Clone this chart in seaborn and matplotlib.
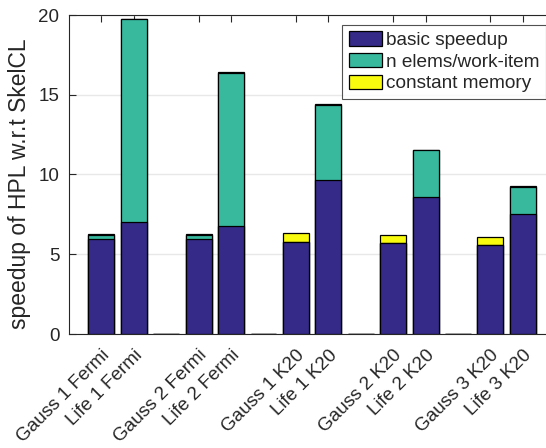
import matplotlib
matplotlib.use("Agg")
import matplotlib.pyplot as plt
import seaborn as sns
import pandas as pd
from matplotlib.patches import Patch

# Benchmarks (pairs separated by an empty slot)
benchmarks = ["Gauss 1 Fermi", "Life 1 Fermi",
              "Gauss 2 Fermi", "Life 2 Fermi",
              "Gauss 1 K20", "Life 1 K20",
              "Gauss 2 K20", "Life 2 K20",
              "Gauss 3 K20", "Life 3 K20"]
basic_speedup = [5.95, 7.00, 5.95, 6.80, 5.75, 9.65, 5.68, 8.57, 5.58, 7.50]
n_elems = [0.27, 12.73, 0.27, 9.58, 0.00, 4.72, 0.00, 2.99, 0.00, 1.70]
constant_memory = [0.06, 0.00, 0.05, 0.05, 0.56, 0.02, 0.53, 0.00, 0.50, 0.06]

series_names = ["basic speedup", "n elems/work-item", "constant memory"]
colors = ["#352a87", "#38b99e", "#f9fb0e"]

# Build the slot list: a pair of bars, then an empty slot of height 0
slots, b, n, c = [], [], [], []
for i, name in enumerate(benchmarks):
    slots.append(name)
    b.append(basic_speedup[i])
    n.append(n_elems[i])
    c.append(constant_memory[i])
    if i % 2 == 1 and i < len(benchmarks) - 1:
        slots.append(" " * (i + 1))
        b.append(0.0)
        n.append(0.0)
        c.append(0.0)

df = pd.DataFrame({"slot": slots, "basic": b, "nelems": n, "const": c})
df["level1"] = df["basic"]
df["level2"] = df["basic"] + df["nelems"]
df["level3"] = df["level2"] + df["const"]

sns.set_theme(style="white")
plt.rcParams["font.family"] = ["Liberation Sans", "DejaVu Sans"]

fig = plt.figure(figsize=(5.46, 4.48), dpi=100)
# the plotting area runs a little past the right edge of the figure
ax = fig.add_axes([69 / 546, 1 - 334 / 448, 486.3 / 546, 319 / 448])

# Stacked bars drawn from the tallest cumulative level down
for col, color in zip(["level3", "level2", "level1"], colors[::-1]):
    sns.barplot(data=df, x="slot", y=col, order=slots, color=color,
                saturation=1, width=0.8, edgecolor="black", linewidth=0.9,
                ax=ax, zorder=3)

ax.set_xlim(-1, 14)
ax.set_ylim(0, 20)
ax.set_yticks([0, 5, 10, 15, 20])
tick_pos = [i for i, s in enumerate(slots) if s.strip()]
ax.set_xticks(tick_pos)
ax.set_xticklabels([slots[i] for i in tick_pos], rotation=45,
                   ha="right", rotation_mode="anchor", fontsize=13.6)
ax.tick_params(axis="y", labelsize=13.5, pad=7)
ax.tick_params(direction="in", length=5, width=0.8, color="#262626",
               top=True, bottom=True, left=True, right=False,
               labelcolor="#262626")
ax.tick_params(axis="x", pad=9)
ax.set_xlabel("")
ax.set_ylabel("speedup of HPL w.r.t SkelCL", fontsize=16.5, color="#262626")
ax.yaxis.set_label_coords(-0.078, 0.47)

ax.yaxis.grid(True, color="#e8e8e8", linewidth=1.0, zorder=0)
ax.set_axisbelow(True)
for side in ["left", "top", "bottom"]:
    ax.spines[side].set_color("#262626")
    ax.spines[side].set_linewidth(0.8)
ax.spines["right"].set_visible(False)

handles = [Patch(facecolor=col, edgecolor="black", linewidth=0.9, label=lab)
           for col, lab in zip(colors, series_names)]
leg = ax.legend(handles=handles, loc="upper right", fontsize=13.7,
                frameon=True, fancybox=False, edgecolor="#262626",
                handlelength=1.75, handleheight=0.8, handletextpad=0.2,
                labelspacing=0.2, borderpad=0.35, borderaxespad=0.5)
leg.get_frame().set_linewidth(0.8)

fig.savefig("out.png", dpi=100)
